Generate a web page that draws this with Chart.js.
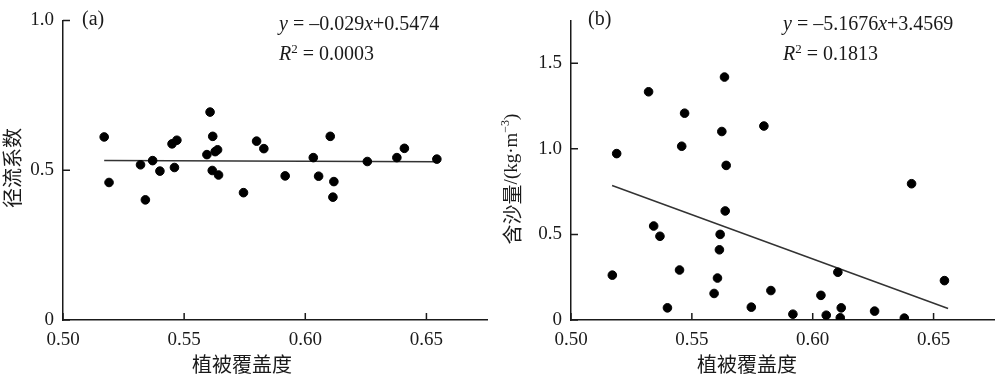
<!DOCTYPE html>
<html>
<head>
<meta charset="utf-8">
<script src="https://cdn.jsdelivr.net/npm/chart.js@4/dist/chart.umd.min.js"></script>
<style>
  html, body { margin: 0; padding: 0; background: #fff; }
  .panel { position: absolute; top: 0; width: 500px; height: 374px; }
  #wrapA { left: 0; }
  #wrapB { left: 500px; }
</style>
</head>
<body>
<div class="panel" id="wrapA"><canvas id="chartA" width="500" height="374"></canvas></div>
<div class="panel" id="wrapB"><canvas id="chartB" width="500" height="374"></canvas></div>
<script>
// (a) 植被覆盖度 vs 径流系数
const coverA = [0.517, 0.519, 0.532, 0.534, 0.537, 0.540, 0.545, 0.547, 0.546, 0.5607,
                0.5618, 0.5594, 0.5628, 0.5638, 0.5616, 0.5642, 0.5745, 0.5799, 0.5829, 0.5917,
                0.6033, 0.6055, 0.6103, 0.6118, 0.6114, 0.6256, 0.6378, 0.6409, 0.6543];
const runoffA = [0.611, 0.459, 0.518, 0.401, 0.532, 0.497, 0.588, 0.600, 0.509, 0.694,
                 0.613, 0.552, 0.562, 0.568, 0.499, 0.484, 0.425, 0.597, 0.572, 0.481,
                 0.542, 0.480, 0.613, 0.462, 0.410, 0.529, 0.542, 0.573, 0.537];

// (b) 植被覆盖度 vs 含沙量
const coverB = [0.5171, 0.5189, 0.5321, 0.5342, 0.5368, 0.5399, 0.5449, 0.5458, 0.5470, 0.5592,
                0.5606, 0.5614, 0.5617, 0.5624, 0.5635, 0.5638, 0.5642, 0.5746, 0.5798, 0.5827,
                0.5918, 0.6034, 0.6056, 0.6104, 0.6118, 0.6114, 0.6256, 0.6379, 0.6409, 0.6545];
const sedimentB = [0.262, 0.972, 1.333, 0.549, 0.489, 0.071, 0.292, 1.015, 1.208, 0.155,
                   0.245, 0.410, 0.500, 1.101, 1.419, 0.637, 0.903, 0.075, 1.133, 0.172,
                   0.034, 0.144, 0.028, 0.279, 0.071, 0.013, 0.052, 0.011, 0.796, 0.230];

// 回归直线 (图中给出的方程)
const fitA = { slope: -0.029, intercept: 0.5474, from: 0.517, to: 0.655 };
const fitB = { slope: -5.1676, intercept: 3.4569, from: 0.517, to: 0.656 };

// 刻度
const xTicks = [0.50, 0.55, 0.60, 0.65];
const xTickLabels = ['0.50', '0.55', '0.60', '0.65'];
const yTicksA = [0, 0.5, 1.0];
const yTickLabelsA = ['0', '0.5', '1.0'];
const yTicksB = [0, 0.5, 1.0, 1.5];
const yTickLabelsB = ['0', '0.5', '1.0', '1.5'];

const SERIF = '"Liberation Serif", "Times New Roman", serif';
const CJK = '"Noto Sans CJK SC", sans-serif';
const INK = '#1a1a1a';

const toPoints = (xs, ys) => xs.map((x, i) => ({ x: x, y: ys[i] }));
const fitLine = f => [f.from, f.to].map(x => ({ x: x, y: f.slope * x + f.intercept }));

// 多字体文本逐段绘制
function drawRich(ctx, segments, x, y) {
    let cx = x;
    segments.forEach(s => {
        ctx.font = s.font;
        ctx.fillText(s.text, cx, y + (s.dy || 0));
        cx += ctx.measureText(s.text).width;
    });
    return cx - x;
}
function richWidth(ctx, segments) {
    let w = 0;
    segments.forEach(s => { ctx.font = s.font; w += ctx.measureText(s.text).width; });
    return w;
}

const f20 = '20px ' + SERIF;
const i20 = 'italic 20px ' + SERIF;
const sup = '13px ' + SERIF;

// 文字、轴标题和朝内的刻度线
const panelText = {
    id: 'panelText',
    afterDraw(chart, args, opts) {
        const ctx = chart.ctx;
        ctx.save();
        ctx.fillStyle = INK;
        ctx.textBaseline = 'middle';
        ctx.textAlign = 'left';

        // 朝内刻度
        ctx.strokeStyle = INK;
        ctx.lineWidth = 1.5;
        const xs = chart.scales.x, ys = chart.scales.y;
        const area = chart.chartArea;
        ctx.beginPath();
        xs.ticks.forEach(t => {
            const px = xs.getPixelForValue(t.value);
            ctx.moveTo(px, area.bottom);
            ctx.lineTo(px, area.bottom - 7);
        });
        ys.ticks.forEach(t => {
            const py = ys.getPixelForValue(t.value);
            ctx.moveTo(area.left, py);
            ctx.lineTo(area.left + 7, py);
        });
        ctx.stroke();

        // 面板标号和方程
        ctx.font = f20;
        ctx.fillText(opts.label, opts.labelX, 20);
        drawRich(ctx, [
            { text: 'y', font: i20 },
            { text: ' = –' + opts.slope, font: f20 },
            { text: 'x', font: i20 },
            { text: '+' + opts.intercept, font: f20 }
        ], opts.eqX, 25);
        drawRich(ctx, [
            { text: 'R', font: i20 },
            { text: '2', font: sup, dy: -5 },
            { text: ' = ' + opts.r2, font: f20 }
        ], opts.eqX, 55);

        // x 轴标题
        ctx.font = '20px ' + CJK;
        ctx.textAlign = 'center';
        ctx.fillText('植被覆盖度', opts.xTitleX, 364);

        // y 轴标题 (旋转)
        ctx.translate(12, opts.yTitleY);
        ctx.rotate(-Math.PI / 2);
        ctx.textAlign = 'left';
        const w = richWidth(ctx, opts.yTitle);
        drawRich(ctx, opts.yTitle, -w / 2, 0);
        ctx.restore();
    }
};

function makePanel(id, cfg) {
    return new Chart(document.getElementById(id), {
        type: 'scatter',
        data: {
            datasets: [
                {
                    data: cfg.points,
                    backgroundColor: '#000',
                    borderColor: '#000',
                    pointRadius: 4.3,
                    pointHoverRadius: 4.3
                },
                {
                    type: 'line',
                    data: cfg.line,
                    borderColor: '#333',
                    borderWidth: 1.5,
                    pointRadius: 0,
                    fill: false
                }
            ]
        },
        options: {
            responsive: false,
            animation: false,
            layout: { padding: cfg.padding },
            plugins: {
                legend: { display: false },
                tooltip: { enabled: false },
                panelText: cfg.text
            },
            scales: {
                x: {
                    type: 'linear',
                    min: 0.5,
                    max: 0.675,
                    afterBuildTicks: s => { s.ticks = xTicks.map(v => ({ value: v })); },
                    afterFit: s => { s.height = 54; },
                    grid: { drawOnChartArea: false, drawTicks: false },
                    border: { display: true, color: INK, width: 1.5 },
                    ticks: {
                        color: INK,
                        padding: 9,
                        maxRotation: 0,
                        font: { family: SERIF, size: 19 },
                        callback: (v, i) => xTickLabels[i]
                    }
                },
                y: {
                    min: 0,
                    max: cfg.yMax,
                    afterBuildTicks: s => { s.ticks = cfg.yTicks.map(v => ({ value: v })); },
                    afterFit: s => { s.width = cfg.yWidth; },
                    grid: { drawOnChartArea: false, drawTicks: false },
                    border: { display: true, color: INK, width: 1.5 },
                    ticks: {
                        color: INK,
                        padding: 9,
                        font: { family: SERIF, size: 19 },
                        callback: (v, i) => cfg.yLabels[i]
                    }
                }
            }
        },
        plugins: [panelText]
    });
}

makePanel('chartA', {
    points: toPoints(coverA, runoffA),
    line: fitLine(fitA),
    padding: { left: 0, right: 13, top: 10, bottom: 0 },
    yMax: 1.0,
    yWidth: 63,
    yTicks: yTicksA,
    yLabels: yTickLabelsA,
    text: {
        label: '(a)', labelX: 82,
        slope: '0.029', intercept: '0.5474', r2: '0.0003', eqX: 279,
        xTitleX: 242,
        yTitleY: 168,
        yTitle: [{ text: '径流系数', font: '20px ' + CJK }]
    }
});

makePanel('chartB', {
    points: toPoints(coverB, sedimentB),
    line: fitLine(fitB),
    padding: { left: 0, right: 6, top: 8, bottom: 0 },
    yMax: 1.75,
    yWidth: 71,
    yTicks: yTicksB,
    yLabels: yTickLabelsB,
    text: {
        label: '(b)', labelX: 88,
        slope: '5.1676', intercept: '3.4569', r2: '0.1813', eqX: 283,
        xTitleX: 247,
        yTitleY: 179,
        yTitle: [
            { text: '含沙量', font: '20px ' + CJK },
            { text: '/(kg·m', font: '19px ' + SERIF },
            { text: '−3', font: '12px ' + SERIF, dy: -6 },
            { text: ')', font: '19px ' + SERIF }
        ]
    }
});
</script>
</body>
</html>
